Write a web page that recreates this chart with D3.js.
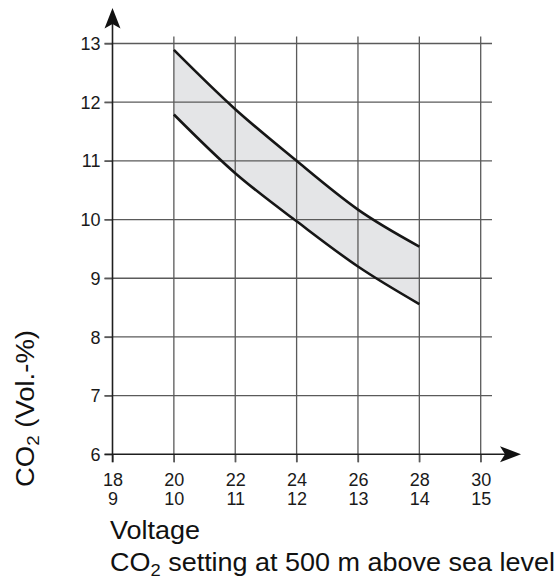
<!DOCTYPE html>
<html>
<head>
<meta charset="utf-8">
<script src="https://cdn.jsdelivr.net/npm/d3@7"></script>
<style>
  html, body { margin: 0; padding: 0; background: #fff; }
  svg { display: block; font-family: "Liberation Sans", Arial, Helvetica, sans-serif; }
</style>
</head>
<body>
<svg id="chart" width="557" height="581"></svg>
<script>
// Supply voltage (24 V systems) and the matching 12 V system values
const voltage24 = [18, 20, 22, 24, 26, 28, 30];
const voltage12 = [9, 10, 11, 12, 13, 14, 15];
// CO2 tick values
const co2Ticks = [6, 7, 8, 9, 10, 11, 12, 13];
// Permitted CO2 band (upper / lower limit) at each voltage
const bandVoltage = [20, 22, 24, 26, 28];
const co2Upper = [12.89, 11.88, 11.0, 10.17, 9.54];
const co2Lower = [11.79, 10.79, 9.97, 9.2, 8.56];

const svg = d3.select("#chart");
const x = d3.scaleLinear().domain([18, 30]).range([112.5, 480.7]);
const y = d3.scaleLinear().domain([6, 13]).range([454.3, 43.5]);

const gridColor = "#5a5a5a";
const axisColor = "#1e1e1e";
const tickFont = 18;

// Shaded band between the two limit curves
const band = bandVoltage.map((v, i) => ({ v, lo: co2Lower[i], hi: co2Upper[i] }));
svg.append("path")
  .datum(band)
  .attr("fill", "#e4e5e7")
  .attr("d", d3.area().x(d => x(d.v)).y0(d => y(d.lo)).y1(d => y(d.hi)).curve(d3.curveNatural));

// Grid
const grid = svg.append("g").attr("stroke", gridColor).attr("stroke-width", 1.3);
grid.selectAll("line.h").data(co2Ticks.slice(1)).join("line")
  .attr("x1", x(18) - 8).attr("x2", 492)
  .attr("y1", d => y(d)).attr("y2", d => y(d));
grid.selectAll("line.v").data(voltage24.slice(1)).join("line")
  .attr("y1", y(13) - 7).attr("y2", y(6) + 8)
  .attr("x1", d => x(d)).attr("x2", d => x(d));

// Limit curves
const line = d3.line().curve(d3.curveNatural);
[co2Upper, co2Lower].forEach(vals => {
  svg.append("path")
    .datum(bandVoltage.map((v, i) => [x(v), y(vals[i])]))
    .attr("fill", "none")
    .attr("stroke", "#161616")
    .attr("stroke-width", 2.6)
    .attr("d", line);
});

// Y axis
const yAxis = svg.append("g").attr("transform", `translate(${x(18)},0)`)
  .call(d3.axisLeft(y).tickValues(co2Ticks).tickSize(8).tickPadding(4).tickFormat(d3.format("d")));
yAxis.select(".domain").remove();
yAxis.selectAll(".tick line").attr("stroke", gridColor).attr("stroke-width", 1.3);
yAxis.selectAll(".tick text").attr("font-size", tickFont).attr("fill", "#1a1a1a")
  .attr("font-family", "Liberation Sans, Arial, sans-serif").attr("dy", "0.34em");

// X axis (two label rows: 24 V and 12 V)
const xAxis = svg.append("g").attr("transform", `translate(0,${y(6)})`)
  .call(d3.axisBottom(x).tickValues(voltage24).tickSize(8).tickFormat(""));
xAxis.select(".domain").remove();
xAxis.selectAll(".tick line").attr("stroke", gridColor).attr("stroke-width", 1.3);
xAxis.selectAll(".tick").each(function(d, i) {
  const g = d3.select(this);
  g.append("text").attr("y", 31.4).attr("text-anchor", "middle").attr("font-size", tickFont)
    .attr("fill", "#1a1a1a").text(voltage24[i]);
  g.append("text").attr("y", 50.7).attr("text-anchor", "middle").attr("font-size", tickFont)
    .attr("fill", "#1a1a1a").text(voltage12[i]);
});

// Axis lines with arrow heads
svg.append("line").attr("x1", x(18)).attr("x2", x(18)).attr("y1", 22).attr("y2", y(6) + 8)
  .attr("stroke", axisColor).attr("stroke-width", 1.6);
svg.append("line").attr("x1", x(18) - 8).attr("x2", 506).attr("y1", y(6)).attr("y2", y(6))
  .attr("stroke", axisColor).attr("stroke-width", 1.6);
const ax = x(18), ay = y(6);
svg.append("path").attr("fill", "#111")
  .attr("d", `M${ax},8 L${ax + 8},28.5 L${ax},24 L${ax - 8},28.5 Z`);
svg.append("path").attr("fill", "#111")
  .attr("d", `M521,${ay} L500,${ay - 8} L505,${ay} L500,${ay + 8} Z`);

// Axis titles
const yTitle = svg.append("text")
  .attr("transform", "translate(33.5,487) rotate(-90)")
  .attr("font-size", 25).attr("fill", "#111")
  .attr("textLength", 157).attr("lengthAdjust", "spacingAndGlyphs");
yTitle.append("tspan").text("CO");
yTitle.append("tspan").attr("font-size", 17).attr("dy", 5).text("2");
yTitle.append("tspan").attr("dy", -5).text(" (Vol.-%)");

svg.append("text").attr("x", 110).attr("y", 538.5).attr("font-size", 25).attr("fill", "#111")
  .attr("textLength", 90).attr("lengthAdjust", "spacingAndGlyphs").text("Voltage");

const xTitle2 = svg.append("text").attr("x", 110).attr("y", 570.5)
  .attr("font-size", 25).attr("fill", "#111")
  .attr("textLength", 445).attr("lengthAdjust", "spacingAndGlyphs");
xTitle2.append("tspan").text("CO");
xTitle2.append("tspan").attr("font-size", 17).attr("dy", 5).text("2");
xTitle2.append("tspan").attr("dy", -5).text(" setting at 500 m above sea level");
</script>
</body>
</html>
